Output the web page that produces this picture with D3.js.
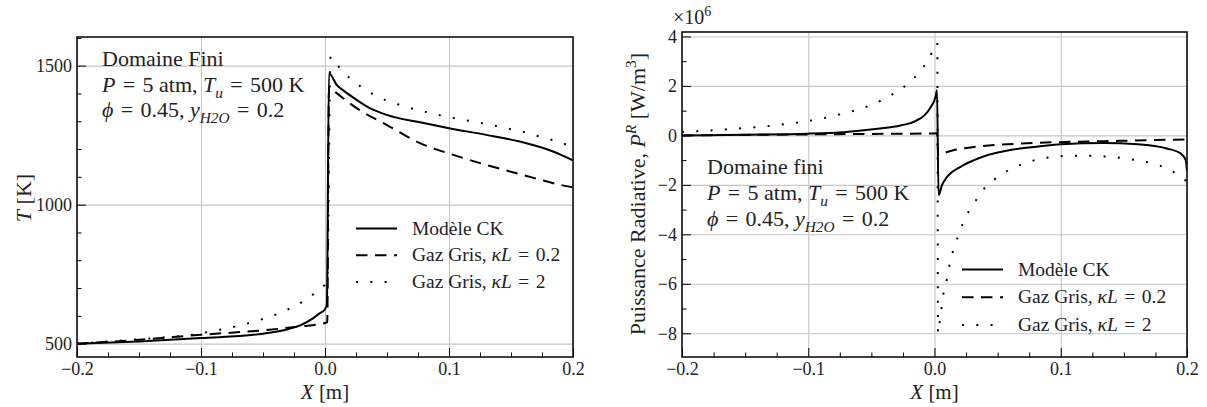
<!DOCTYPE html>
<html>
<head>
<meta charset="utf-8">
<script src="https://cdn.jsdelivr.net/npm/d3@7"></script>
<style>
  body { margin: 0; background: #fff; }
  text { font-family: "Liberation Serif", "DejaVu Serif", serif; fill: #222; white-space: pre; }
</style>
</head>
<body>
<div id="container"></div>
<script>
// ---- data ----
const xTicks = [-0.2, -0.1, 0, 0.1, 0.2];
const tempTicks = [500, 1000, 1500];
const powerTicks = [-8, -6, -4, -2, 0, 2, 4];
const legendLabels = ['Modèle CK', 'Gaz Gris, κL = 0.2', 'Gaz Gris, κL = 2'];

// temperature [K] vs X [m]
const tempCk = [[-0.2, 500], [-0.15, 508], [-0.1, 520], [-0.05, 536], [-0.03, 552], [-0.02, 566],
  [-0.01, 590], [-0.005, 607], [0, 624], [0.0015, 640], [0.0032, 1473], [0.0094, 1431], [0.015, 1410],
  [0.0228, 1385], [0.035, 1350], [0.0497, 1323], [0.0766, 1296], [0.1, 1275], [0.13, 1251],
  [0.157, 1227], [0.184, 1191], [0.2, 1159]];
const tempGray02 = [[-0.2, 500], [-0.15, 514], [-0.1, 532], [-0.05, 548], [-0.02, 562], [0, 574],
  [0.0018, 578], [0.0032, 1422], [0.0094, 1401], [0.0255, 1347], [0.0497, 1287], [0.0766, 1221],
  [0.1035, 1179], [0.13, 1143], [0.157, 1110], [0.19, 1071], [0.2, 1062]];
const tempGray2 = [[-0.2, 500], [-0.15, 516], [-0.1, 537], [-0.09, 546], [-0.078, 556], [-0.067, 567],
  [-0.056, 581], [-0.045, 596], [-0.034, 615], [-0.0245, 635], [-0.015, 660], [-0.006, 690],
  [0, 712], [0.0018, 722], [0.0045, 1532], [0.012, 1491], [0.02, 1455], [0.0288, 1425], [0.0382, 1398],
  [0.0484, 1377], [0.0586, 1361], [0.0694, 1347], [0.08, 1335], [0.0914, 1323], [0.102, 1313],
  [0.113, 1304], [0.124, 1295], [0.135, 1286], [0.146, 1275], [0.157, 1265], [0.1675, 1252],
  [0.178, 1239], [0.189, 1225], [0.2, 1206]];

// radiative power [1e6 W/m3] vs X [m]
const powerCk = [[-0.2, 0.0], [-0.15, 0.03], [-0.1, 0.07], [-0.07, 0.14], [-0.045, 0.27], [-0.027, 0.4],
  [-0.016, 0.56], [-0.008, 0.81], [-0.003, 1.14], [0.0008, 1.55], [0.002, 1.82], [0.0032, -2.42],
  [0.006, -2.0], [0.0101, -1.67], [0.0206, -1.27], [0.03, -1.03], [0.0417, -0.8], [0.055, -0.64],
  [0.068, -0.53], [0.085, -0.43], [0.1, -0.36], [0.134, -0.31], [0.161, -0.36], [0.184, -0.53],
  [0.195, -0.73], [0.199, -1.0], [0.2, -1.45]];
const powerGray02 = [[-0.2, 0.0], [-0.1, 0.04], [-0.05, 0.06], [0, 0.08], [0.002, 0.09], [0.003, -0.8],
  [0.0061, -0.74], [0.015, -0.6], [0.0285, -0.49], [0.045, -0.4], [0.068, -0.33], [0.108, -0.26],
  [0.147, -0.22], [0.2, -0.16]];
const powerGray2 = [[-0.2, 0.14], [-0.188, 0.17], [-0.166, 0.24], [-0.144, 0.32], [-0.122, 0.43],
  [-0.1, 0.58], [-0.078, 0.81], [-0.056, 1.12], [-0.046, 1.32], [-0.036, 1.58], [-0.026, 1.89],
  [-0.0176, 2.25], [-0.0103, 2.67], [-0.004, 3.14], [0, 3.6], [0.0022, 3.75], [0.0028, -8.0],
  [0.0045, -7.4], [0.0074, -6.3], [0.0101, -5.75], [0.0121, -5.19], [0.0148, -4.65], [0.0185, -4.11],
  [0.0224, -3.57], [0.0272, -3.07], [0.0333, -2.59], [0.0398, -2.12], [0.0483, -1.75], [0.0576, -1.44],
  [0.0676, -1.2], [0.0782, -1.02], [0.0893, -0.9], [0.1004, -0.84], [0.1117, -0.82], [0.1228, -0.82],
  [0.1336, -0.85], [0.1447, -0.89], [0.1558, -0.97], [0.1666, -1.06], [0.1777, -1.21], [0.1877, -1.43],
  [0.197, -1.75], [0.2, -1.88]];

const styles = [
  { dash: null, width: 2 },
  { dash: '11.5,7.5', width: 2 },
  { dash: '2,12.3', width: 2 }
];

const W = 1207;
const H = 407;
const EQ = '\u2004=\u2004';   // wider math spacing around "="

const svg = d3.select('#container')
              .append('svg')
              .attr('width', W)
              .attr('height', H)
              .attr('font-family', 'Liberation Serif, serif');

// text with italic / sub / superscript pieces
function rich(sel, parts, size) {
  let shift = 0;
  parts.forEach((p) => {
    const target = p.sub ? size * 0.28 : p.sup ? -size * 0.42 : 0;
    const ts = sel.append('tspan').text(p.t).attr('dy', target - shift);
    shift = target;
    if (p.it) ts.attr('font-style', 'italic');
    if (p.sub || p.sup) ts.attr('font-size', size * 0.7);
  });
  return sel;
}

function legendParts(i) {
  if (i === 0) return [{ t: legendLabels[0] }];
  const lab = legendLabels[i];
  const k = lab.indexOf('κL');
  return [{ t: lab.slice(0, k) }, { t: 'κL', it: true }, { t: lab.slice(k + 2).replace(' = ', EQ) }];
}

function panel(opt) {
  const g = svg.append('g');
  const h = opt.bottom - opt.top;
  const w = opt.right - opt.left;
  const x = d3.scaleLinear().domain([-0.2, 0.2]).range([opt.left, opt.right]);
  const y = d3.scaleLinear().domain(opt.yDomain).range([opt.bottom, opt.top]);

  // grid
  g.append('g')
   .attr('transform', `translate(0,${opt.bottom})`)
   .call(d3.axisBottom(x).tickValues(xTicks).tickSize(-h).tickFormat(''))
   .call((s) => s.select('.domain').remove())
   .selectAll('line').attr('stroke', '#c6c6c6').attr('stroke-width', 1.1);
  g.append('g')
   .attr('transform', `translate(${opt.left},0)`)
   .call(d3.axisLeft(y).tickValues(opt.yTicks).tickSize(-w).tickFormat(''))
   .call((s) => s.select('.domain').remove())
   .selectAll('line').attr('stroke', '#c6c6c6').attr('stroke-width', 1.1);

  const clipId = 'clip' + opt.id;
  svg.append('clipPath').attr('id', clipId)
     .append('rect').attr('x', opt.left).attr('y', opt.top).attr('width', w).attr('height', h);

  const line = d3.line()
                 .x((d) => x(d[0]))
                 .y((d) => y(d[1]))
                 .curve(d3.curveMonotoneX);

  g.append('g')
   .attr('clip-path', `url(#${clipId})`)
   .selectAll('path')
   .data(opt.series)
   .enter()
   .append('path')
   .attr('d', line)
   .attr('fill', 'none')
   .attr('stroke', '#000')
   .attr('stroke-width', (d, i) => styles[i].width)
   .attr('stroke-dasharray', (d, i) => styles[i].dash);

  // ticks (inside)
  const xMinor = d3.range(-8, 9).map((i) => i * 0.025).filter((v, i) => i % 4 !== 0);
  const yMin = d3.range(Math.ceil(opt.yDomain[0] / opt.yMinorStep), Math.floor(opt.yDomain[1] / opt.yMinorStep) + 1)
                 .map((i) => i * opt.yMinorStep)
                 .filter((v) => !opt.yTicks.includes(v));

  g.append('g')
   .attr('transform', `translate(0,${opt.bottom})`)
   .call(d3.axisBottom(x).tickValues(xMinor).tickSize(-4.5).tickFormat(''))
   .call((s) => s.select('.domain').remove());
  g.append('g')
   .attr('transform', `translate(${opt.left},0)`)
   .call(d3.axisLeft(y).tickValues(yMin).tickSize(-4.5).tickFormat(''))
   .call((s) => s.select('.domain').remove());

  g.append('g')
   .attr('transform', `translate(0,${opt.bottom})`)
   .call(d3.axisBottom(x).tickValues(xTicks).tickSize(-9).tickPadding(5).tickFormat(d3.format('.1f')))
   .call((s) => s.select('.domain').remove())
   .attr('font-size', 18)
   .attr('font-family', null);
  g.append('g')
   .attr('transform', `translate(${opt.left},0)`)
   .call(d3.axisLeft(y).tickValues(opt.yTicks).tickSize(-9).tickPadding(5).tickFormat(d3.format('d')))
   .call((s) => s.select('.domain').remove())
   .attr('font-size', 18)
   .attr('font-family', null);

  // frame
  g.append('rect')
   .attr('x', opt.left).attr('y', opt.top)
   .attr('width', w).attr('height', h)
   .attr('fill', 'none')
   .attr('stroke', '#111')
   .attr('stroke-width', 1.6);

  // legend
  const lg = g.append('g');
  legendLabels.forEach((lab, i) => {
    const ly = opt.legend.y + i * opt.legend.step;
    lg.append('line')
      .attr('x1', opt.legend.x).attr('x2', opt.legend.x + 41)
      .attr('y1', ly).attr('y2', ly)
      .attr('stroke', '#000')
      .attr('stroke-width', styles[i].width)
      .attr('stroke-dasharray', styles[i].dash);
    rich(lg.append('text').attr('x', opt.legend.x + 56).attr('y', ly + 6).attr('font-size', 19.5),
         legendParts(i), 19.5);
  });

  // annotation
  const ann = [
    [{ t: opt.title }],
    [{ t: 'P', it: true }, { t: EQ + '5 atm, ' }, { t: 'T', it: true }, { t: 'u', it: true, sub: true }, { t: EQ + '500 K' }],
    [{ t: 'ϕ', it: true }, { t: EQ + '0.45, ' }, { t: 'y', it: true }, { t: 'H2O', it: true, sub: true }, { t: EQ + '0.2' }]
  ];
  ann.forEach((parts, i) => {
    rich(g.append('text').attr('x', opt.ann.x).attr('y', opt.ann.y + i * opt.ann.step).attr('font-size', 22),
         parts, 22);
  });

  // x label
  rich(g.append('text')
        .attr('x', x(0)).attr('y', 399)
        .attr('text-anchor', 'middle')
        .attr('font-size', 21),
       [{ t: 'X', it: true }, { t: ' [m]' }], 21);

  return { x, y, g };
}

panel({
  id: 'temp',
  left: 77, right: 573, top: 37, bottom: 357,
  yDomain: [452, 1603], yTicks: tempTicks, yMinorStep: 100,
  series: [tempCk, tempGray02, tempGray2],
  legend: { x: 356, y: 228.5, step: 26.7 },
  ann: { x: 102, y: 66, step: 25.5 },
  title: 'Domaine Fini'
});

panel({
  id: 'power',
  left: 682, right: 1187, top: 32, bottom: 357,
  yDomain: [-8.96, 4.18], yTicks: powerTicks, yMinorStep: 1,
  series: [powerCk, powerGray02, powerGray2],
  legend: { x: 962, y: 269.5, step: 27.8 },
  ann: { x: 707, y: 174, step: 26 },
  title: 'Domaine fini'
});

// y labels
rich(svg.append('text')
        .attr('transform', 'translate(31,198) rotate(-90)')
        .attr('text-anchor', 'middle')
        .attr('font-size', 22),
     [{ t: 'T', it: true }, { t: ' [K]' }], 22);

rich(svg.append('text')
        .attr('transform', 'translate(645,194) rotate(-90)')
        .attr('text-anchor', 'middle')
        .attr('font-size', 22),
     [{ t: 'Puissance Radiative, ' }, { t: 'P', it: true }, { t: 'R', it: true, sup: true },
      { t: ' [W/m' }, { t: '3', sup: true }, { t: ']' }], 22);

// offset text
rich(svg.append('text')
        .attr('x', 673).attr('y', 24)
        .attr('font-size', 20),
     [{ t: '×10' }, { t: '6', sup: true }], 20);
</script>
</body>
</html>
